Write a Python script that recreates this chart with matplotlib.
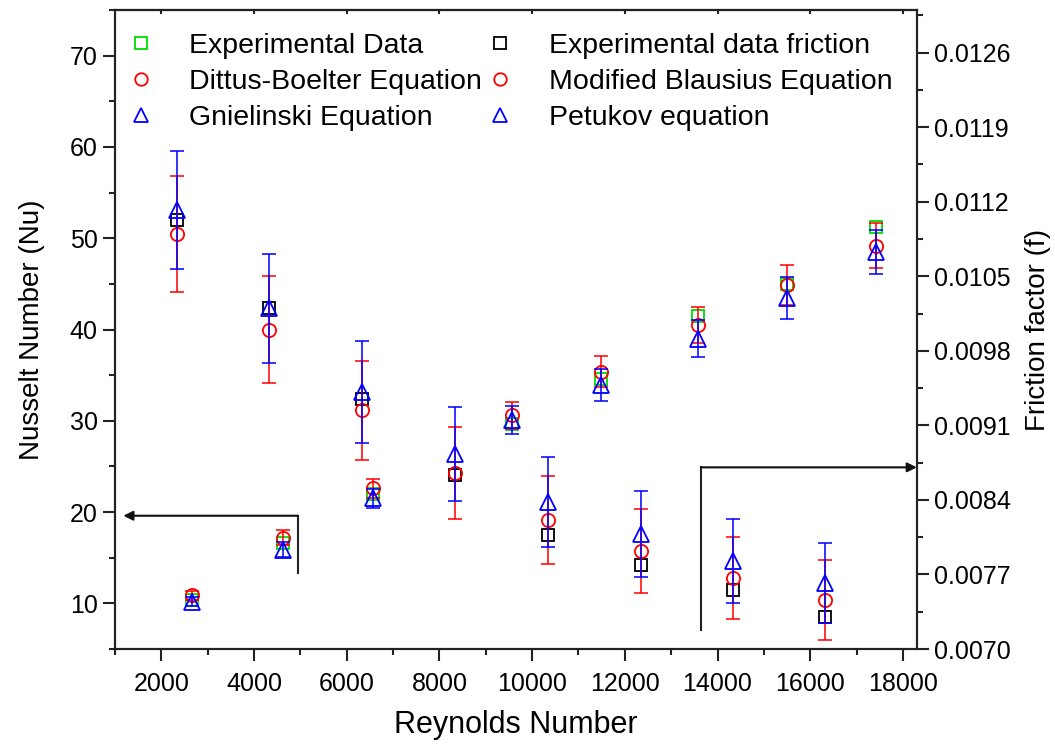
import numpy as np
import matplotlib
matplotlib.use('Agg')
import matplotlib.pyplot as plt
from matplotlib.lines import Line2D
from matplotlib.ticker import MultipleLocator

plt.rcParams['font.family'] = ['Liberation Sans', 'DejaVu Sans']

# Nusselt number data (left axis)
re_nu = [2670, 4620, 6560, 9560, 11490, 13580, 15490, 17420]
nu_exp = [10.4, 16.6, 22.0, 29.7, 34.6, 41.5, 45.0, 51.2]
nu_db = [10.9, 17.2, 22.6, 30.6, 35.4, 40.5, 44.9, 49.2]
nu_db_err = [0.5, 0.8, 1.05, 1.5, 1.75, 2.0, 2.2, 2.45]
nu_gn = [10.2, 15.9, 21.5, 30.1, 33.9, 39.0, 43.4, 48.5]
nu_gn_err = [0.5, 0.8, 1.0, 1.5, 1.75, 2.05, 2.3, 2.45]

# friction factor data (right axis)
re_f = [2345, 4330, 6325, 8330, 10337, 12355, 14340, 16324]
f_exp = [0.01103, 0.01020, 0.00935, 0.00863, 0.00807, 0.00779, 0.00755, 0.00730]
f_mb = [0.01090, 0.01000, 0.00924, 0.00865, 0.00821, 0.00792, 0.00767, 0.00746]
f_mb_err = [0.000545, 0.000505, 0.000465, 0.000432, 0.000412, 0.000397, 0.000385, 0.000376]
f_pk = [0.01112, 0.01020, 0.00941, 0.00883, 0.00838, 0.00808, 0.00783, 0.00762]
f_pk_err = [0.000556, 0.000510, 0.000479, 0.000442, 0.000423, 0.000404, 0.000395, 0.000379]

GREEN = '#00dd00'
RED = '#ff0000'
BLUE = '#0000ff'
DARK = '#222222'

fig = plt.figure(figsize=(10.55, 7.46), dpi=100)
ax = fig.add_axes([0.109, 0.130, 0.760, 0.8566])
ax2 = ax.twinx()

mk = dict(linestyle='none', markerfacecolor='none', markeredgewidth=1.3)
eb = dict(fmt='none', capsize=5, elinewidth=1.4, capthick=1.4, alpha=0.8)

# left axis: Nusselt number
ax.plot(re_nu, nu_exp, marker='s', markersize=8.5, markeredgecolor=GREEN, **mk)
ax.errorbar(re_nu, nu_db, yerr=nu_db_err, ecolor=RED, **eb)
ax.plot(re_nu, nu_db, marker='o', markersize=9.5, markeredgecolor=RED, **mk)
ax.errorbar(re_nu, nu_gn, yerr=nu_gn_err, ecolor=BLUE, **eb)
ax.plot(re_nu, nu_gn, marker='^', markersize=11, markeredgecolor=BLUE, **mk)

# right axis: friction factor
ax2.plot(re_f, f_exp, marker='s', markersize=8.5, markeredgecolor='black', **mk)
ax2.errorbar(re_f, f_mb, yerr=f_mb_err, ecolor=RED, **eb)
ax2.plot(re_f, f_mb, marker='o', markersize=9.5, markeredgecolor=RED, **mk)
ax2.errorbar(re_f, f_pk, yerr=f_pk_err, ecolor=BLUE, **eb)
ax2.plot(re_f, f_pk, marker='^', markersize=11, markeredgecolor=BLUE, **mk)

ax.set_xlim(1000, 18300)
ax.set_ylim(5, 75)
ax2.set_ylim(0.0070, 0.0130)

ax.xaxis.set_major_locator(MultipleLocator(2000))
ax.xaxis.set_minor_locator(MultipleLocator(1000))
ax.yaxis.set_major_locator(MultipleLocator(10))
ax.yaxis.set_minor_locator(MultipleLocator(5))
ax2.yaxis.set_major_locator(MultipleLocator(0.0007))
ax2.yaxis.set_minor_locator(MultipleLocator(0.00035))
ax2.yaxis.set_major_formatter(plt.FormatStrFormatter('%.4f'))

for a in (ax, ax2):
    for s in a.spines.values():
        s.set_linewidth(1.5)
        s.set_color(DARK)
ax.tick_params(axis='both', which='major', direction='out', length=8.5, width=1.5,
               labelsize=18, color=DARK, pad=4)
ax.tick_params(axis='both', which='minor', direction='out', length=4.5, width=1.5, color=DARK)
ax.tick_params(axis='x', which='major', pad=8)
ax.tick_params(axis='x', which='both', top=False)
ax2.tick_params(axis='y', which='major', direction='out', length=8.5, width=1.5,
                labelsize=18, color=DARK, pad=4)
ax2.tick_params(axis='y', which='minor', direction='out', length=4.5, width=1.5, color=DARK)

# short inward marks along the top edge
sec = ax.secondary_xaxis('top')
sec.xaxis.set_major_locator(MultipleLocator(2000))
sec.tick_params(direction='in', length=3, width=1.5, color=DARK, labeltop=False)
sec.spines['top'].set_linewidth(1.5)
sec.spines['top'].set_color(DARK)

ax.set_xlabel('Reynolds Number', fontsize=22, labelpad=10)
ax.set_ylabel('Nusselt Number (Nu)', fontsize=20, labelpad=18)
ax2.set_ylabel('Friction factor (f)', fontsize=20, labelpad=10)

# arrows pointing to the matching axis
arr = dict(arrowstyle='-|>', color='#111111', lw=1.5, mutation_scale=14, shrinkA=0, shrinkB=0)
ax.plot([4950, 4950], [13.3, 19.6], color=DARK, lw=1.5)
ax.annotate('', xy=(1180, 19.6), xytext=(4950, 19.6), arrowprops=arr)
ax.plot([13640, 13640], [7.1, 24.9], color=DARK, lw=1.5)
ax.annotate('', xy=(18300, 24.9), xytext=(13640, 24.9), arrowprops=arr)

handles = [
    Line2D([], [], marker='s', markersize=8, markeredgecolor=GREEN, **mk),
    Line2D([], [], marker='o', markersize=9, markeredgecolor=RED, **mk),
    Line2D([], [], marker='^', markersize=10, markeredgecolor=BLUE, **mk),
    Line2D([], [], marker='s', markersize=8, markeredgecolor='black', **mk),
    Line2D([], [], marker='o', markersize=9, markeredgecolor=RED, **mk),
    Line2D([], [], marker='^', markersize=10, markeredgecolor=BLUE, **mk),
]
labels = ['Experimental Data', 'Dittus-Boelter Equation', 'Gnielinski Equation',
          'Experimental data friction', 'Modified Blausius Equation', 'Petukov equation']
ax2.legend(handles, labels, ncol=2, loc='upper left', bbox_to_anchor=(0.0, 0.982),
           frameon=False, fontsize=20.5, handlelength=1.0, handletextpad=1.2,
           columnspacing=0.15, labelspacing=0.35, borderaxespad=0.0)

fig.savefig('out.png', dpi=100)
